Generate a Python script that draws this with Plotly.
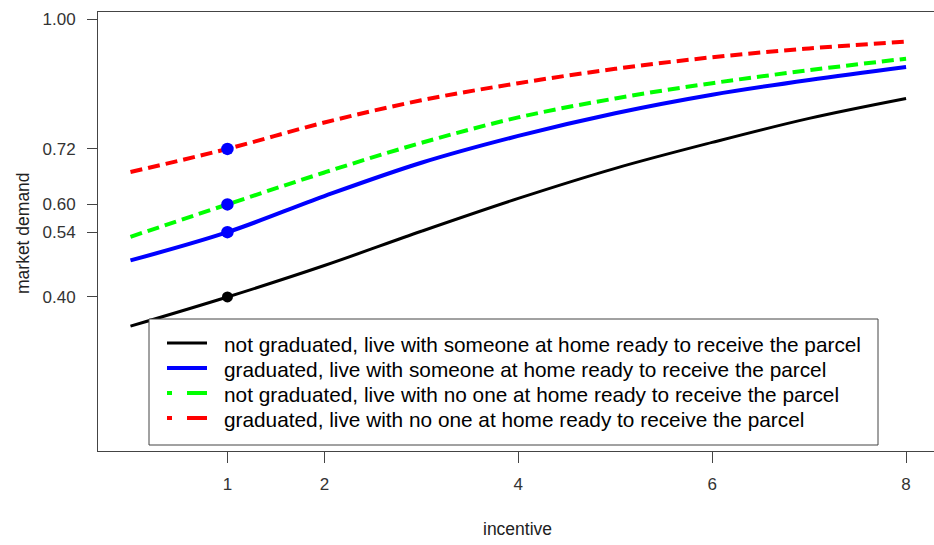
import plotly.graph_objects as go

# incentive levels and predicted market demand for each household profile
incentive = [0, 1, 2, 3, 4, 5, 6, 7, 8]
demand_not_grad_someone = [0.337, 0.400, 0.468, 0.542, 0.613, 0.678, 0.734, 0.786, 0.829]
demand_grad_someone = [0.479, 0.540, 0.618, 0.690, 0.748, 0.797, 0.837, 0.869, 0.897]
demand_not_grad_noone = [0.530, 0.600, 0.669, 0.733, 0.788, 0.829, 0.862, 0.890, 0.915]
demand_grad_noone = [0.670, 0.720, 0.777, 0.825, 0.862, 0.893, 0.918, 0.937, 0.952]

# highlighted demand at incentive = 1
point_x = [1, 1, 1, 1]
point_y = [0.40, 0.54, 0.60, 0.72]
point_colors = ["black", "blue", "blue", "blue"]
point_sizes = [11, 12.5, 12.5, 12.5]

series_names = [
    "not graduated, live with someone at home ready to receive the parcel",
    "graduated, live with someone at home ready to receive the parcel",
    "not graduated, live with no one at home ready to receive the parcel",
    "graduated, live with no one at home ready to receive the parcel",
]
series_values = [demand_not_grad_someone, demand_grad_someone,
                 demand_not_grad_noone, demand_grad_noone]
series_colors = ["black", "#0000ff", "#00ff00", "#ff0000"]
series_widths = [3, 4, 4, 4]
series_dash = ["solid", "solid", "12px,6px", "12px,6px"]
legend_dash = ["solid", "solid", "5px,15px,20px", "5px,15px,20px"]

x_ticks = [1, 2, 4, 6, 8]
y_ticks = [0.40, 0.54, 0.60, 0.72, 1.00]
y_tick_text = ["0.40", "0.54", "0.60", "0.72", "1.00"]

W, H = 934, 545
L, R, T, B = 98, 0, 12, 94
PW, PH = W - L - R, H - T - B
FONT = "Liberation Sans, Arial"


def px(xp):
    return (xp - L) / PW


def py(yp):
    return (H - B - yp) / PH


fig = go.Figure()
for name, vals, col, w, d in zip(series_names, series_values, series_colors,
                                 series_widths, series_dash):
    fig.add_trace(go.Scatter(
        x=incentive, y=vals, mode="lines", name=name,
        line=dict(color=col, width=w, dash=d, shape="spline", smoothing=1.0),
        showlegend=False, hoverinfo="skip",
    ))

fig.add_trace(go.Scatter(
    x=point_x, y=point_y, mode="markers",
    marker=dict(color=point_colors, size=point_sizes, opacity=1,
                line=dict(width=0)),
    showlegend=False, hoverinfo="skip",
))

# boxed key inside the plot
shapes = [dict(type="rect", xref="paper", yref="paper",
               x0=px(149), x1=px(878), y0=py(445), y1=py(319),
               line=dict(color="#444444", width=1), fillcolor="white", layer="above")]
annotations = []
row_y = [343, 368, 393, 418]
for name, col, w, d, ry in zip(series_names, series_colors, series_widths,
                               legend_dash, row_y):
    shapes.append(dict(type="line", xref="paper", yref="paper",
                       x0=px(167), x1=px(207), y0=py(ry), y1=py(ry),
                       line=dict(color=col, width=w, dash=d), layer="above"))
    annotations.append(dict(xref="paper", yref="paper", x=px(222), y=py(ry + 1),
                            text=name, showarrow=False, xanchor="left",
                            yanchor="middle",
                            font=dict(family=FONT, size=20.8, color="black")))

annotations.append(dict(xref="paper", yref="paper", x=px(517), y=py(529),
                        text="incentive", showarrow=False, xanchor="center",
                        yanchor="middle",
                        font=dict(family=FONT, size=17.5, color="#222222")))
annotations.append(dict(xref="paper", yref="paper", x=px(23), y=py(233),
                        text="market demand", showarrow=False, textangle=-90,
                        xanchor="center", yanchor="middle",
                        font=dict(family=FONT, size=17.5, color="#222222")))

fig.update_layout(
    width=W, height=H,
    margin=dict(l=L, r=R, t=T, b=B),
    paper_bgcolor="white", plot_bgcolor="white",
    shapes=shapes, annotations=annotations,
    font=dict(family=FONT, size=17, color="#333333"),
)
fig.update_xaxes(
    range=[-0.335, 8.288], tickvals=x_ticks, ticktext=[str(t) for t in x_ticks],
    showgrid=False, zeroline=False, showline=True, mirror=True,
    linecolor="#444444", linewidth=1, ticks="outside", ticklen=11,
    tickcolor="#444444", tickwidth=1, ticklabelstandoff=7,
)
fig.update_yaxes(
    range=[0.0672, 1.0158], tickvals=y_ticks, ticktext=y_tick_text,
    showgrid=False, zeroline=False, showline=True, mirror=False,
    linecolor="#444444", linewidth=1, ticks="outside", ticklen=10,
    tickcolor="#444444", tickwidth=1, ticklabelstandoff=8,
)

fig.write_html("out.html")
